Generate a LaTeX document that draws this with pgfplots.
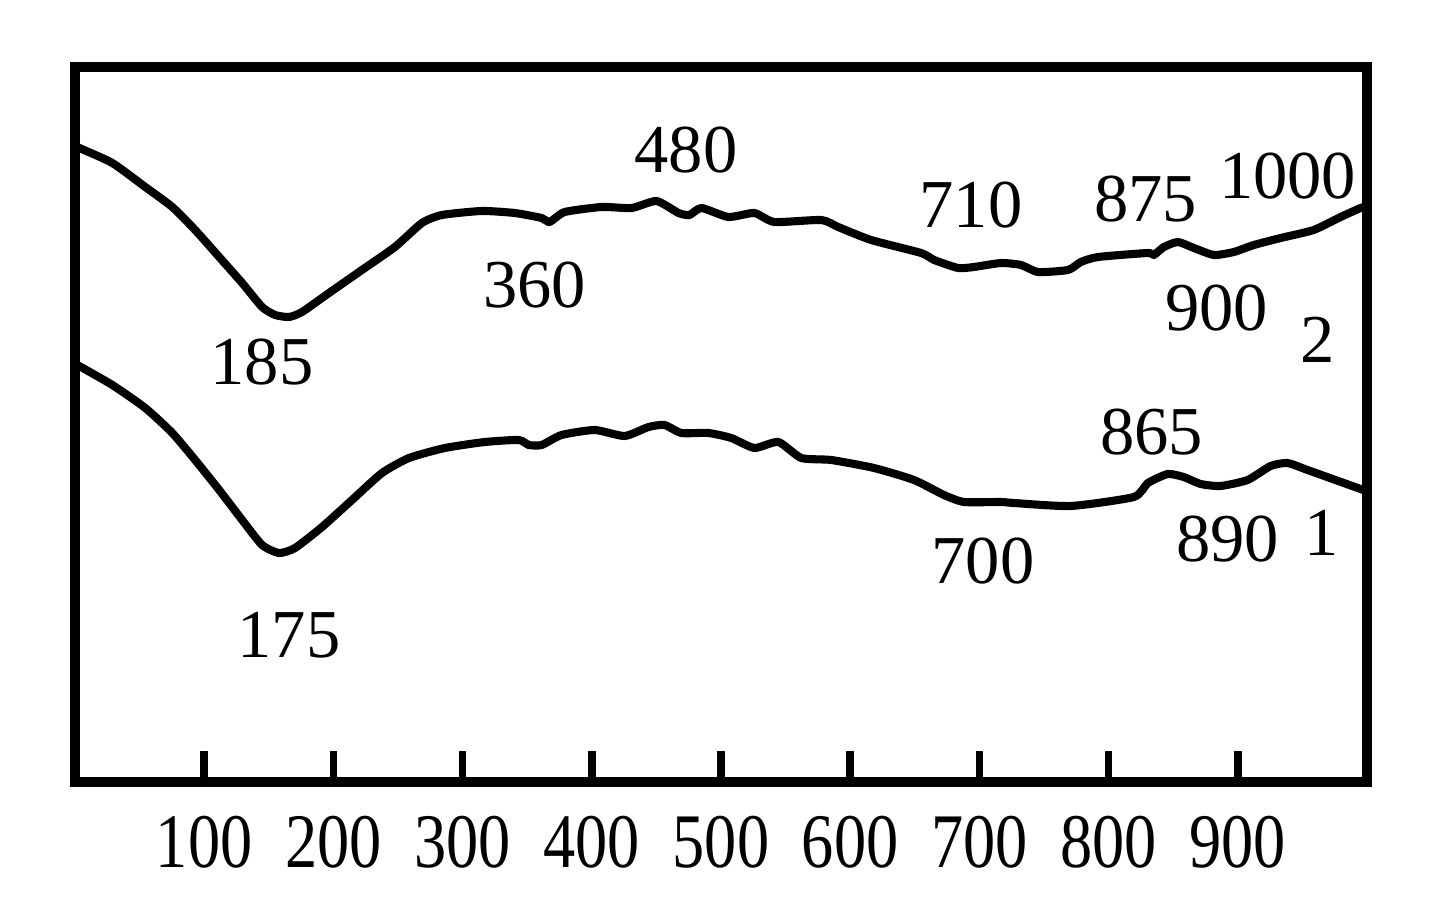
\documentclass[border=0pt]{standalone}
\usepackage{fontspec}
\setmainfont{Liberation Serif}
\usepackage{graphicx}
\usepackage{pgfplots}
\pgfplotsset{compat=1.18}
\begin{document}
\begin{tikzpicture}
\begin{axis}[
  at={(0,0)}, anchor=south west,
  scale only axis, width=12.92cm, height=7.15cm,
  xmin=0, xmax=1000, ymin=0, ymax=715,
  axis line style={line width=3pt},
  xtick={100,200,...,900},
  minor x tick num=1,
  ytick=\empty,
  xtick pos=bottom, tick align=inside,
  major tick length=0.31cm, minor tick length=0.05cm,
  every tick/.style={black, line width=2.2pt},
  tick label style={font=\fontsize{18.3}{22}\selectfont},
  xticklabel={\scalebox{1}[1.2]{\pgfmathprintnumber{\tick}}},
  xticklabel style={yshift=-0.22cm},
  /pgf/number format/assume math mode=true,
  clip=false,
]
% curve 2 (upper)
\addplot[black, line width=2.3pt, line join=round, smooth, tension=0.35] coordinates {
(0,636) (3.4,634) (28.9,619) (54.4,595) (75.3,575) (93.0,552) (111.6,525)
(129.4,499) (144.8,475) (154.9,467) (165.7,465) (175.7,470) (196.6,489)
(222.1,512) (247.6,535) (268.5,559) (284.0,567) (314.8,571) (340.3,569)
(361.2,564) (367.4,560) (379.0,570) (407.6,575) (430.8,574) (450.1,581)
(467.1,569) (475.6,567) (484.9,574) (505.7,565) (525.8,569) (541.3,560)
(577.6,562) (590.7,555) (616.2,542) (654.9,529) (665.0,522) (683.5,514)
(695.8,515) (716.7,519) (732.2,517) (745.4,510) (768.6,512) (778.5,520)
(791.8,525) (830.4,529) (835.0,527) (842.8,535) (853.6,540) (866.0,534)
(881.5,527) (896.9,530) (912.4,537) (933.2,544) (958.7,552) (979.6,565)
(995.0,574) (1000,576)
};
% curve 1 (lower)
\addplot[black, line width=2.3pt, line join=round, smooth, tension=0.35] coordinates {
(0,419) (1.9,417) (28.9,397) (54.4,374) (75.3,349) (93.0,322) (111.6,292)
(129.4,262) (144.8,237) (157.9,229) (170.3,234) (191.2,255) (214.4,282)
(237.6,309) (258.5,324) (286.3,334) (317.2,340) (343.5,342) (351.2,337)
(361.2,337) (376.6,347) (402.2,352) (425.4,346) (443.9,355) (456.3,357)
(469.4,349) (490.3,349) (508.0,344) (525.8,334) (544.4,340) (562.1,324)
(585.3,322) (618.5,314) (649.4,302) (672.6,287) (688.1,280) (716.7,280)
(726.7,279) (770.8,276) (819.5,285) (830.4,299) (845.8,308) (858.1,305)
(871.3,298) (886.7,296) (907.6,302) (925.4,316) (938.5,319) (954.0,312)
(997.2,292) (1000,291)
};
% annotations
\tikzset{lab/.style={font=\fontsize{19.5}{23}\selectfont, inner sep=0pt}}
\node[lab] at (axis cs:473,632) {480};
\node[lab] at (axis cs:693.5,577) {710};
\node[lab] at (axis cs:828.8,583) {875};
\node[lab] at (axis cs:938.5,606) {1000};
\node[lab] at (axis cs:883.6,474) {900};
\node[lab] at (axis cs:961.6,442) {2};
\node[lab] at (axis cs:144.8,420) {185};
\node[lab] at (axis cs:355.8,497) {360};
\node[lab] at (axis cs:165.7,147) {175};
\node[lab] at (axis cs:702.8,221) {700};
\node[lab] at (axis cs:833.4,350) {865};
\node[lab] at (axis cs:892.1,243) {890};
\node[lab] at (axis cs:964.7,249) {1};
\end{axis}
\pgfresetboundingbox
\path (-0.75cm,-1.38cm) rectangle (13.65cm,7.82cm);
\end{tikzpicture}
\end{document}
